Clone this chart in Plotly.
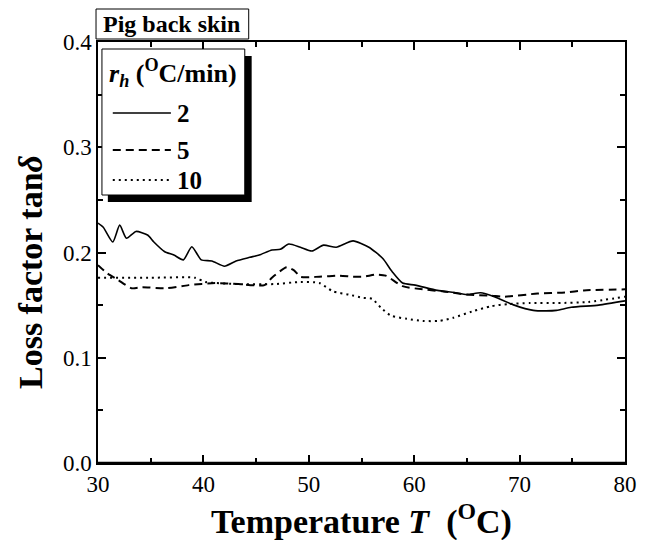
import plotly.graph_objects as go

# ---- data ----
T_2 = [30.0, 30.5, 31.4, 32.06, 32.7, 33.6, 34.7, 35.3, 36.3, 37.2, 38.1, 38.9, 39.8, 40.8, 42.0,
       43.1, 44.4, 45.3, 46.5, 47.3, 48.1, 49.2, 50.3, 51.4, 52.6, 54.2, 55.7, 57.0, 57.9, 58.9,
       60.1, 62.2, 63.8, 65.0, 66.3, 67.6, 69.5, 71.3, 72.5, 73.5, 74.9, 77.5, 80.0]
V_2 = [0.228, 0.224, 0.210, 0.226, 0.2135, 0.220, 0.2166, 0.210, 0.201, 0.1976, 0.193, 0.2055, 0.193, 0.192, 0.187,
       0.192, 0.1954, 0.1976, 0.2024, 0.203, 0.208, 0.205, 0.2014, 0.207, 0.205, 0.211, 0.205, 0.1945, 0.182, 0.171,
       0.169, 0.164, 0.162, 0.160, 0.1617, 0.158, 0.150, 0.145, 0.1445, 0.145, 0.148, 0.150, 0.154]

T_5 = [30.0, 30.9, 31.9, 33.2, 34.2, 36.4, 38.6, 41.1, 43.3, 45.8, 46.5, 47.9, 48.6, 49.2, 51.0,
       52.9, 54.2, 55.2, 56.4, 57.3, 58.9, 60.8, 62.8, 65.0, 67.3, 68.5, 71.7, 74.3, 76.1, 80.0]
V_5 = [0.188, 0.180, 0.174, 0.166, 0.167, 0.166, 0.169, 0.171, 0.170, 0.169, 0.176, 0.186, 0.183, 0.177, 0.177,
       0.178, 0.177, 0.177, 0.179, 0.178, 0.168, 0.165, 0.163, 0.160, 0.159, 0.158, 0.161, 0.162, 0.164, 0.165]

T_10 = [30.0, 35.0, 39.2, 40.2, 43.3, 46.7, 49.2, 51.0, 52.3, 53.8, 55.1, 56.0, 56.9, 57.8, 59.3, 60.8,
        62.4, 63.7, 65.5, 67.3, 68.9, 71.0, 73.6, 76.5, 80.0]
V_10 = [0.176, 0.176, 0.176, 0.172, 0.170, 0.170, 0.172, 0.171, 0.163, 0.160, 0.157, 0.156, 0.147, 0.140, 0.137, 0.135,
        0.135, 0.138, 0.144, 0.149, 0.151, 0.152, 0.152, 0.153, 0.158]

rates = ["2", "5", "10"]
dashes = ["solid", "dash", "dot"]

x_ticks = [30, 40, 50, 60, 70, 80]
y_ticks = [0.0, 0.1, 0.2, 0.3, 0.4]

FONT = "Liberation Serif"


def dash_of(d):
    return {"solid": "solid", "dash": "8px,5px", "dot": "2px,4px"}[d]


fig = go.Figure()
for T, V, name, d in zip([T_2, T_5, T_10], [V_2, V_5, V_10], rates, dashes):
    fig.add_trace(go.Scatter(x=T, y=V, mode="lines", name=name, showlegend=False,
                             line=dict(color="black", width=1.6 if d == "solid" else 2.0,
                                       dash=dash_of(d), shape="spline", smoothing=0.6)))

# plot area in pixels: x 98..633, y 42..463
W, H = 649, 540
L, R, Tp, B = 98, 16, 42, 77
pw, ph = W - L - R, H - Tp - B


def px(x):
    return (x - L) / pw


def py(y):
    return (H - B - y) / ph


axis_common = dict(showline=True, linecolor="black", linewidth=1.5, mirror="ticks",
                   ticks="inside", ticklen=8, tickwidth=1.5, tickcolor="black",
                   showgrid=False, zeroline=False,
                   tickfont=dict(family=FONT, size=23, color="black"))

fig.update_xaxes(range=[30, 80], tickvals=x_ticks, ticktext=[str(v) for v in x_ticks],
                 minor=dict(ticks="inside", ticklen=5, tickwidth=1.5, tickcolor="black", dtick=5),
                 **axis_common)
fig.update_yaxes(range=[0, 0.4], tickvals=y_ticks, ticktext=[f"{v:.1f}" for v in y_ticks],
                 minor=dict(ticks="inside", ticklen=5, tickwidth=1.5, tickcolor="black", dtick=0.05),
                 **axis_common)

shapes = []
ann = []
# thicker bottom axis
shapes.append(dict(type="line", xref="paper", yref="paper", x0=0, x1=1, y0=0, y1=0,
                   line=dict(color="black", width=2.5)))
# legend shadow + box
shapes.append(dict(type="rect", xref="paper", yref="paper", x0=px(108), x1=px(254), y0=py(56), y1=py(202),
                   fillcolor="black", line=dict(width=0), layer="above"))
shapes.append(dict(type="rect", xref="paper", yref="paper", x0=px(102), x1=px(247), y0=py(49), y1=py(195),
                   fillcolor="white", line=dict(color="black", width=1), layer="above"))
# title box
shapes.append(dict(type="rect", xref="paper", yref="paper", x0=px(96), x1=px(251), y0=py(9), y1=py(39),
                   fillcolor="white", line=dict(color="black", width=1), layer="above"))

ann.append(dict(text="<b>Pig back skin</b>", xref="paper", yref="paper", x=px(173), y=py(24),
                showarrow=False, xanchor="center", yanchor="middle",
                font=dict(family=FONT, size=24, color="black")))
ann.append(dict(text="<b><i>r<sub>h</sub></i> (<sup>O</sup>C/min)</b>", xref="paper", yref="paper",
                x=px(107), y=py(73), showarrow=False, xanchor="left", yanchor="middle",
                font=dict(family=FONT, size=26, color="black")))

rows = [113, 150, 180]
for name, d, ry in zip(rates, dashes, rows):
    shapes.append(dict(type="line", xref="paper", yref="paper", x0=px(113), x1=px(172), y0=py(ry), y1=py(ry),
                       layer="above",
                       line=dict(color="black", width=1.6 if d == "solid" else 2.0, dash=dash_of(d))))
    ann.append(dict(text=f"<b>{name}</b>", xref="paper", yref="paper", x=px(176), y=py(ry),
                    showarrow=False, xanchor="left", yanchor="middle",
                    font=dict(family=FONT, size=25, color="black")))

# axis titles
ann.append(dict(text="<b>Temperature <i>T</i>  (<sup>O</sup>C)</b>", xref="paper", yref="paper",
                x=px(366), y=py(519), showarrow=False, xanchor="center", yanchor="middle",
                font=dict(family=FONT, size=34, color="black")))
ann.append(dict(text="<b>Loss factor tan<i>δ</i></b>", xref="paper", yref="paper",
                x=px(29), y=py(272), showarrow=False, xanchor="center", yanchor="middle", textangle=-90,
                font=dict(family=FONT, size=34, color="black")))

fig.update_layout(width=W, height=H, margin=dict(l=L, r=R, t=Tp, b=B),
                  paper_bgcolor="white", plot_bgcolor="white",
                  shapes=shapes, annotations=ann, showlegend=False)

fig.write_html("out.html")
